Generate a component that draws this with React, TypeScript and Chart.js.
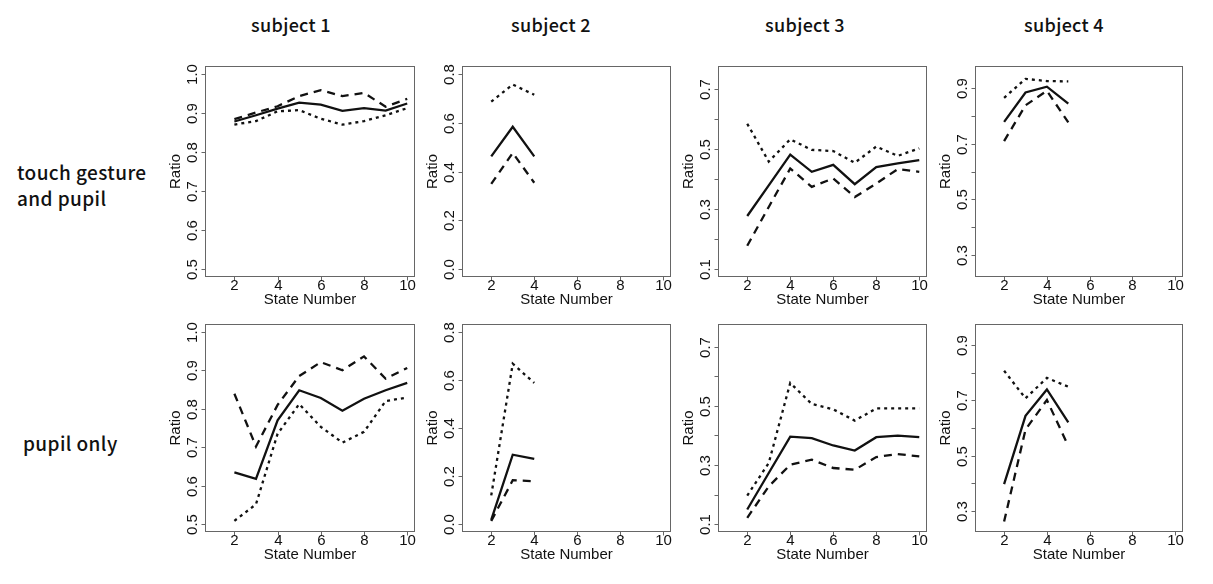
import React, { useEffect, useRef } from "react";
import { Chart, registerables } from "chart.js";

Chart.register(...registerables);

// ---------- text ----------
const subjects = ["subject 1", "subject 2", "subject 3", "subject 4"];
const conditions = [["touch gesture", "and pupil"], ["pupil only"]];
const xTitle = "State Number";
const yTitle = "Ratio";

// ---------- x axis ----------
const xLim = [1, 10];
const xTicks = [2, 4, 6, 8, 10];

// ---------- states (x values) ----------
const statesS1 = [2, 3, 4, 5, 6, 7, 8, 9, 10];
const statesS2 = [2, 3, 4];
const statesS3 = [2, 3, 4, 5, 6, 7, 8, 9, 10];
const statesS4 = [2, 3, 4, 5];

// ---------- touch gesture and pupil ----------
const touchS1Solid = [0.878, 0.894, 0.911, 0.926, 0.921, 0.905, 0.912, 0.906, 0.924];
const touchS1Dashed = [0.884, 0.901, 0.917, 0.943, 0.958, 0.943, 0.951, 0.916, 0.936];
const touchS1Dotted = [0.87, 0.879, 0.904, 0.907, 0.885, 0.87, 0.879, 0.894, 0.912];

const touchS2Solid = [0.462, 0.583, 0.462];
const touchS2Dashed = [0.349, 0.476, 0.354];
const touchS2Dotted = [0.686, 0.756, 0.714];

const touchS3Solid = [0.277, 0.379, 0.481, 0.424, 0.447, 0.383, 0.44, 0.452, 0.463];
const touchS3Dashed = [0.178, 0.307, 0.435, 0.374, 0.402, 0.34, 0.385, 0.433, 0.424];
const touchS3Dotted = [0.584, 0.458, 0.532, 0.497, 0.493, 0.454, 0.508, 0.477, 0.502];

const touchS4Solid = [0.778, 0.883, 0.904, 0.843];
const touchS4Dashed = [0.709, 0.837, 0.889, 0.776];
const touchS4Dotted = [0.864, 0.932, 0.924, 0.923];

// ---------- pupil only ----------
const pupilS1Solid = [0.635, 0.618, 0.77, 0.848, 0.828, 0.795, 0.826, 0.848, 0.867];
const pupilS1Dashed = [0.839, 0.702, 0.81, 0.885, 0.921, 0.9, 0.936, 0.878, 0.906];
const pupilS1Dotted = [0.509, 0.552, 0.735, 0.812, 0.753, 0.712, 0.74, 0.82, 0.829];

const pupilS2Solid = [0.018, 0.289, 0.272];
const pupilS2Dashed = [0.014, 0.183, 0.179];
const pupilS2Dotted = [0.12, 0.667, 0.587];

const pupilS3Solid = [0.15, 0.273, 0.396, 0.391, 0.366, 0.349, 0.394, 0.399, 0.394];
const pupilS3Dashed = [0.122, 0.228, 0.301, 0.318, 0.29, 0.284, 0.327, 0.337, 0.329];
const pupilS3Dotted = [0.197, 0.307, 0.577, 0.506, 0.488, 0.45, 0.491, 0.491, 0.491];

const pupilS4Solid = [0.396, 0.644, 0.74, 0.62];
const pupilS4Dashed = [0.26, 0.594, 0.702, 0.534];
const pupilS4Dotted = [0.808, 0.708, 0.782, 0.75];

// ---------- y axes per subject ----------
const yLimS1 = [0.5, 1.0];
const yTicksS1 = [0.5, 0.6, 0.7, 0.8, 0.9, 1.0];
const yLabelsS1 = ["0.5", "0.6", "0.7", "0.8", "0.9", "1.0"];

const yLimS2 = [0.0, 0.8];
const yTicksS2 = [0.0, 0.2, 0.4, 0.6, 0.8];
const yLabelsS2 = ["0.0", "0.2", "0.4", "0.6", "0.8"];

const yLimS3 = [0.1, 0.75];
const yTicksS3 = [0.1, 0.2, 0.3, 0.4, 0.5, 0.6, 0.7];
const yLabelsS3 = ["0.1", "", "0.3", "", "0.5", "", "0.7"];

const yLimS4 = [0.25, 0.95];
const yTicksS4 = [0.3, 0.4, 0.5, 0.6, 0.7, 0.8, 0.9];
const yLabelsS4 = ["0.3", "", "0.5", "", "0.7", "", "0.9"];

// ---------- layout (plot boxes in page pixels) ----------
const boxLeft = [205, 462, 718, 975];
const boxRight = [415, 671, 927, 1183];
const boxTop = [66, 324];
const boxBottom = [277, 532];
const titleCenters = [291, 551, 805, 1064];

const PAD = { left: 50, top: 10, right: 10, bottom: 40 };
const AXIS_FONT = "15px 'Liberation Sans', Arial, Helvetica, sans-serif";
const INK = "#111";

type PanelProps = {
  col: number;
  row: number;
  states: number[];
  solid: number[];
  dashed: number[];
  dotted: number[];
  yLim: number[];
  yTicks: number[];
  yLabels: string[];
};

function expand(lim: number[]) {
  const d = (lim[1] - lim[0]) * 0.04;
  return [lim[0] - d, lim[1] + d];
}

function Panel(p: PanelProps) {
  const ref = useRef<HTMLCanvasElement | null>(null);
  const left = boxLeft[p.col] - PAD.left;
  const top = boxTop[p.row] - PAD.top;
  const width = boxRight[p.col] - boxLeft[p.col] + PAD.left + PAD.right;
  const height = boxBottom[p.row] - boxTop[p.row] + PAD.top + PAD.bottom;

  useEffect(() => {
    if (!ref.current) return;
    const xr = expand(xLim);
    const yr = expand(p.yLim);
    const toPts = (vals: number[]) => vals.map((v, i) => ({ x: p.states[i], y: v }));
    const common = {
      borderColor: INK,
      borderWidth: 2.3,
      pointRadius: 0,
      tension: 0,
      fill: false,
    };
    const rAxes = {
      id: "rAxes",
      afterDraw(chart: any) {
        const { ctx, chartArea: a, scales } = chart;
        const xs = scales.x;
        const ys = scales.y;
        ctx.save();
        ctx.strokeStyle = "#666";
        ctx.lineWidth = 1;
        const L = Math.round(a.left) + 0.5;
        const T = Math.round(a.top) + 0.5;
        const R = Math.round(a.right) - 0.5;
        const B = Math.round(a.bottom) - 0.5;
        ctx.strokeRect(L, T, R - L, B - T);
        ctx.fillStyle = INK;
        ctx.font = AXIS_FONT;
        ctx.textAlign = "center";
        ctx.textBaseline = "middle";
        xTicks.forEach((t) => {
          const px = Math.round(xs.getPixelForValue(t)) + 0.5;
          ctx.beginPath();
          ctx.moveTo(px, B);
          ctx.lineTo(px, B + 4);
          ctx.stroke();
          ctx.fillText(String(t), px, B + 9);
        });
        ctx.fillText(xTitle, (a.left + a.right) / 2, B + 23);
        p.yTicks.forEach((t, i) => {
          const py = Math.round(ys.getPixelForValue(t)) + 0.5;
          ctx.beginPath();
          ctx.moveTo(L - 4, py);
          ctx.lineTo(L, py);
          ctx.stroke();
          const lab = p.yLabels[i];
          if (lab) {
            ctx.save();
            ctx.translate(L - 13, py);
            ctx.rotate(-Math.PI / 2);
            ctx.fillText(lab, 0, 0);
            ctx.restore();
          }
        });
        ctx.save();
        ctx.translate(L - 30, (a.top + a.bottom) / 2);
        ctx.rotate(-Math.PI / 2);
        ctx.fillText(yTitle, 0, 0);
        ctx.restore();
        ctx.restore();
      },
    };
    const chart = new Chart(ref.current, {
      type: "line",
      data: {
        datasets: [
          { ...common, data: toPts(p.solid), borderDash: [] },
          { ...common, data: toPts(p.dashed), borderDash: [8, 6] },
          { ...common, data: toPts(p.dotted), borderDash: [3, 4] },
        ],
      },
      options: {
        animation: false,
        responsive: false,
        maintainAspectRatio: false,
        layout: { padding: PAD },
        plugins: { legend: { display: false }, tooltip: { enabled: false } },
        events: [],
        scales: {
          x: { type: "linear", min: xr[0], max: xr[1], display: false },
          y: { type: "linear", min: yr[0], max: yr[1], display: false },
        },
      },
      plugins: [rAxes],
    } as any);
    return () => chart.destroy();
  }, []);

  return (
    <canvas
      ref={ref}
      width={width}
      height={height}
      style={{ position: "absolute", left, top, width, height }}
    />
  );
}

const LABEL_FONT = "'Noto Sans CJK JP', 'Noto Sans', sans-serif";

export default function App() {
  const panels: PanelProps[] = [
    { col: 0, row: 0, states: statesS1, solid: touchS1Solid, dashed: touchS1Dashed, dotted: touchS1Dotted, yLim: yLimS1, yTicks: yTicksS1, yLabels: yLabelsS1 },
    { col: 1, row: 0, states: statesS2, solid: touchS2Solid, dashed: touchS2Dashed, dotted: touchS2Dotted, yLim: yLimS2, yTicks: yTicksS2, yLabels: yLabelsS2 },
    { col: 2, row: 0, states: statesS3, solid: touchS3Solid, dashed: touchS3Dashed, dotted: touchS3Dotted, yLim: yLimS3, yTicks: yTicksS3, yLabels: yLabelsS3 },
    { col: 3, row: 0, states: statesS4, solid: touchS4Solid, dashed: touchS4Dashed, dotted: touchS4Dotted, yLim: yLimS4, yTicks: yTicksS4, yLabels: yLabelsS4 },
    { col: 0, row: 1, states: statesS1, solid: pupilS1Solid, dashed: pupilS1Dashed, dotted: pupilS1Dotted, yLim: yLimS1, yTicks: yTicksS1, yLabels: yLabelsS1 },
    { col: 1, row: 1, states: statesS2, solid: pupilS2Solid, dashed: pupilS2Dashed, dotted: pupilS2Dotted, yLim: yLimS2, yTicks: yTicksS2, yLabels: yLabelsS2 },
    { col: 2, row: 1, states: statesS3, solid: pupilS3Solid, dashed: pupilS3Dashed, dotted: pupilS3Dotted, yLim: yLimS3, yTicks: yTicksS3, yLabels: yLabelsS3 },
    { col: 3, row: 1, states: statesS4, solid: pupilS4Solid, dashed: pupilS4Dashed, dotted: pupilS4Dotted, yLim: yLimS4, yTicks: yTicksS4, yLabels: yLabelsS4 },
  ];
  return (
    <div
      style={{
        position: "absolute",
        left: 0,
        top: 0,
        width: 1213,
        height: 584,
        background: "#fff",
        overflow: "hidden",
        color: INK,
      }}
    >
      {subjects.map((s, i) => (
        <div
          key={s}
          style={{
            position: "absolute",
            left: titleCenters[i] - 100,
            width: 200,
            top: 14,
            lineHeight: "20px",
            fontSize: 18,
            fontWeight: 500,
            fontFamily: LABEL_FONT,
            textAlign: "center",
            whiteSpace: "nowrap",
            letterSpacing: "0.3px",
          }}
        >
          {s}
        </div>
      ))}
      <div
        style={{
          position: "absolute",
          left: 17,
          top: 159,
          lineHeight: "26px",
          fontSize: 19,
          fontWeight: 500,
          fontFamily: LABEL_FONT,
          whiteSpace: "nowrap",
          letterSpacing: "0.4px",
        }}
      >
        {conditions[0][0]}
        <br />
        {conditions[0][1]}
      </div>
      <div
        style={{
          position: "absolute",
          left: 23,
          top: 430,
          lineHeight: "26px",
          fontSize: 19,
          fontWeight: 500,
          fontFamily: LABEL_FONT,
          whiteSpace: "nowrap",
          letterSpacing: "0.4px",
        }}
      >
        {conditions[1][0]}
      </div>
      {panels.map((p, i) => (
        <Panel key={i} {...p} />
      ))}
    </div>
  );
}
